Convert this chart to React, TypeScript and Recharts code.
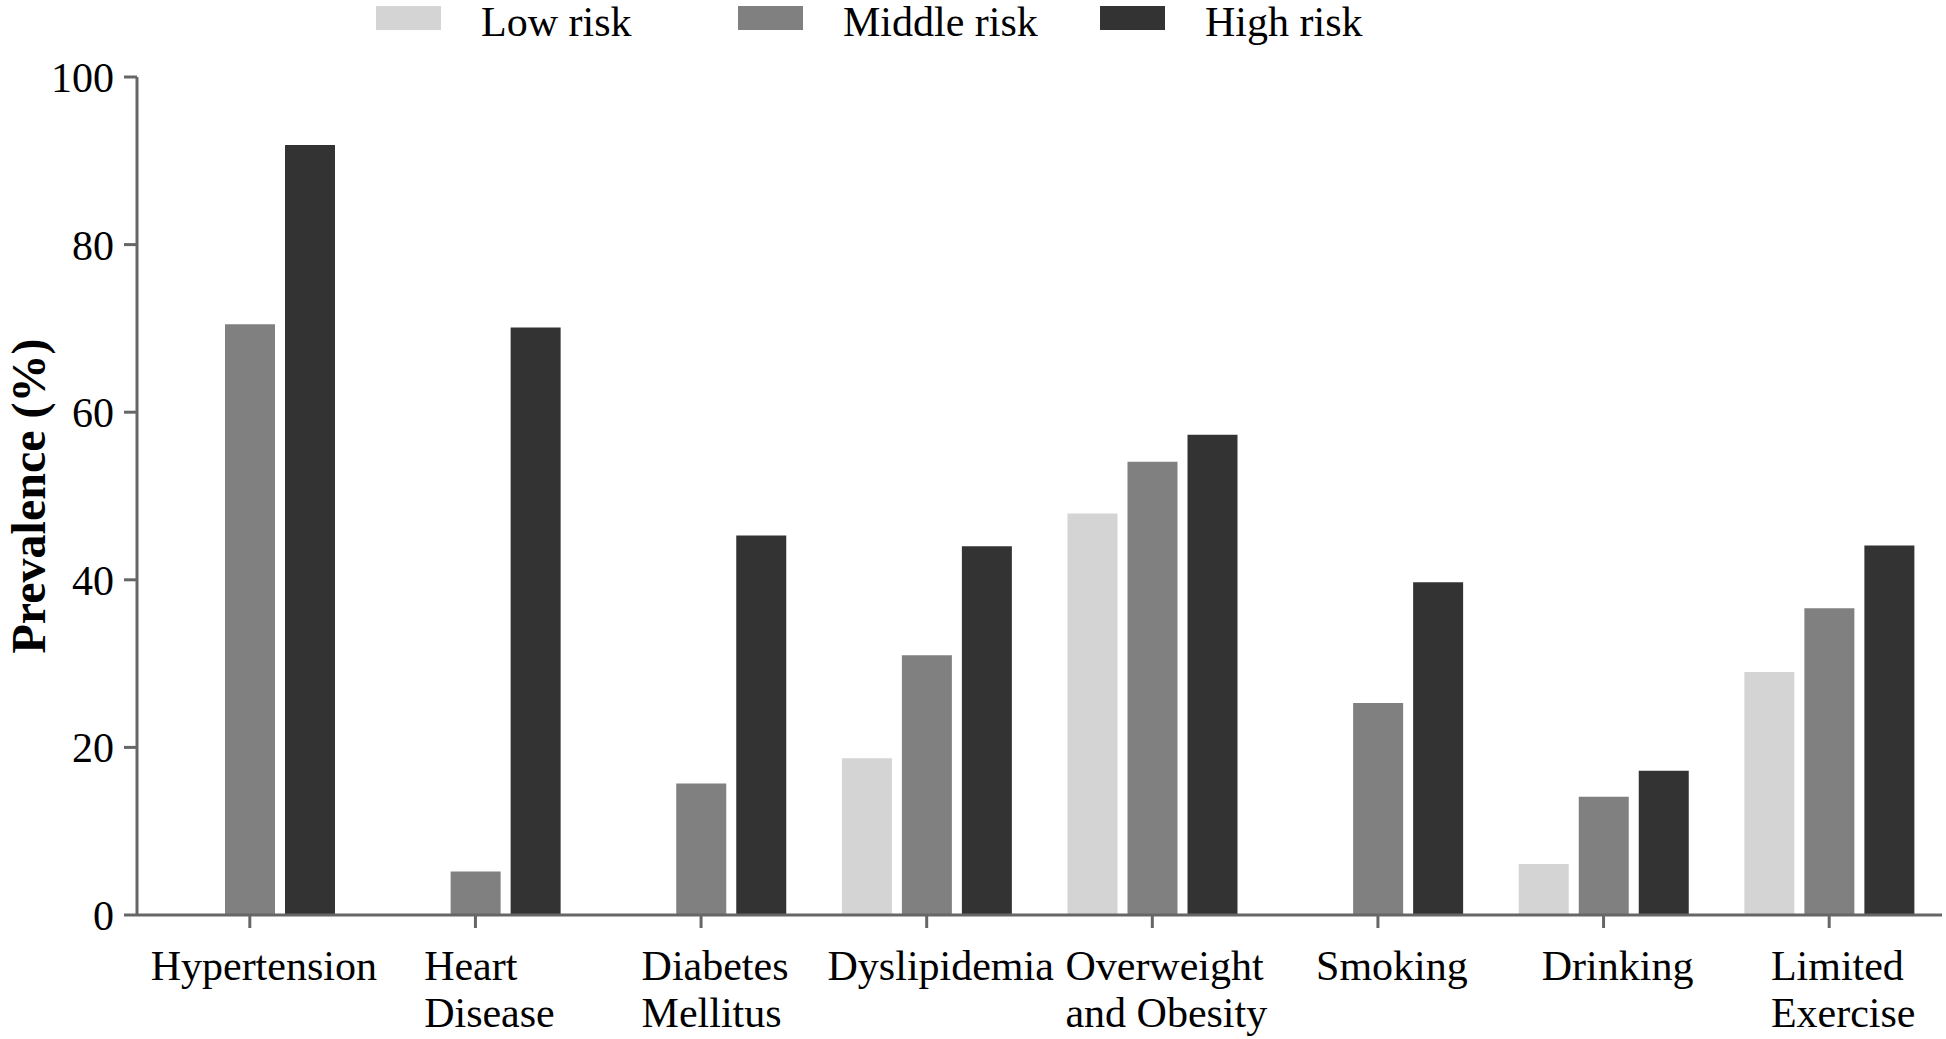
import React from 'react';
import { BarChart, Bar, XAxis, YAxis, Label } from 'recharts';

const categories = [
  'Hypertension',
  'Heart\nDisease',
  'Diabetes\nMellitus',
  'Dyslipidemia',
  'Overweight\nand Obesity',
  'Smoking',
  'Drinking',
  'Limited\nExercise',
];
const lowRisk = [0, 0, 0, 18.7, 47.9, 0, 6.1, 29.0];
const middleRisk = [70.5, 5.2, 15.7, 31.0, 54.1, 25.3, 14.1, 36.6];
const highRisk = [91.9, 70.1, 45.3, 44.0, 57.3, 39.7, 17.2, 44.1];
const yTicks = [0, 20, 40, 60, 80, 100];

const series = [
  { key: 'low', name: 'Low risk', color: '#d4d4d4' },
  { key: 'middle', name: 'Middle risk', color: '#808080' },
  { key: 'high', name: 'High risk', color: '#333333' },
];

const data = categories.map((c, i) => ({
  category: c,
  low: lowRisk[i],
  middle: middleRisk[i],
  high: highRisk[i],
}));

if (typeof document !== 'undefined') document.body.style.margin = '0';

const FONT = '"Liberation Serif", "Times New Roman", serif';
const AXIS = '#666666';

let ctx: CanvasRenderingContext2D | null = null;
const measure = (s: string) => {
  if (!ctx) {
    ctx = document.createElement('canvas').getContext('2d');
    if (ctx) ctx.font = '42px "Liberation Serif"';
  }
  return ctx ? ctx.measureText(s).width : s.length * 20;
};

const CategoryTick = (props: any) => {
  const { x, y, payload } = props;
  const lines = String(payload.value).split('\n');
  const shift = 14;
  if (lines.length === 1) {
    return (
      <text x={x + shift} y={y + 50} textAnchor="middle" fontFamily={FONT} fontSize={42} fill="#000">
        {lines[0]}
      </text>
    );
  }
  const w = Math.max(...lines.map(measure));
  const left = x + shift - w / 2;
  return (
    <text x={left} y={y + 50} textAnchor="start" fontFamily={FONT} fontSize={42} fill="#000">
      {lines.map((l, i) => (
        <tspan key={i} x={left} dy={i === 0 ? 0 : 47}>
          {l}
        </tspan>
      ))}
    </text>
  );
};

const YLabel = (props: any) => {
  const vb = props.viewBox || { x: 0, y: 77, width: 137, height: 838 };
  const cx = vb.x + 45;
  const cy = vb.y + vb.height / 2;
  return (
    <text
      x={cx}
      y={cy}
      textAnchor="middle"
      transform={`rotate(-90, ${cx}, ${cy})`}
      fontFamily={FONT}
      fontSize={48}
      fontWeight="bold"
      fill="#000"
    >
      Prevalence (%)
    </text>
  );
};

export default function App() {
  return (
    <div style={{ position: 'relative', width: 1946, height: 1039, background: '#fff' }}>
      <div style={{ position: 'absolute', top: 0, left: 376, display: 'flex', fontFamily: FONT, fontSize: 42 }}>
        {series.map((s) => (
          <div key={s.key} style={{ width: 362, position: 'relative', height: 44 }}>
            <div style={{ position: 'absolute', left: 0, top: 6, width: 65, height: 24, background: s.color }} />
            <div style={{ position: 'absolute', left: 105, top: 1, lineHeight: '42px', whiteSpace: 'nowrap', color: '#000' }}>
              {s.name}
            </div>
          </div>
        ))}
      </div>
      <BarChart
        width={1946}
        height={1039}
        data={data}
        margin={{ top: 77, right: 4, bottom: 0, left: 0 }}
        barSize={50}
        barGap={10}
      >
        <XAxis
          dataKey="category"
          height={124}
          interval={0}
          tickSize={13}
          tickMargin={2}
          stroke={AXIS}
          axisLine={{ stroke: AXIS, strokeWidth: 3 }}
          tickLine={{ stroke: AXIS, strokeWidth: 3 }}
          tick={<CategoryTick />}
        />
        <YAxis
          width={137}
          domain={[0, 100]}
          ticks={yTicks}
          interval={0}
          tickSize={13}
          tickMargin={10}
          axisLine={{ stroke: AXIS, strokeWidth: 3 }}
          tickLine={{ stroke: AXIS, strokeWidth: 3 }}
          tick={{ fontFamily: FONT, fontSize: 42, fill: '#000' }}
        >
          <Label content={<YLabel />} position="insideLeft" />
        </YAxis>
        {series.map((s) => (
          <Bar key={s.key} dataKey={s.key} name={s.name} fill={s.color} isAnimationActive={false} />
        ))}
      </BarChart>
    </div>
  );
}
